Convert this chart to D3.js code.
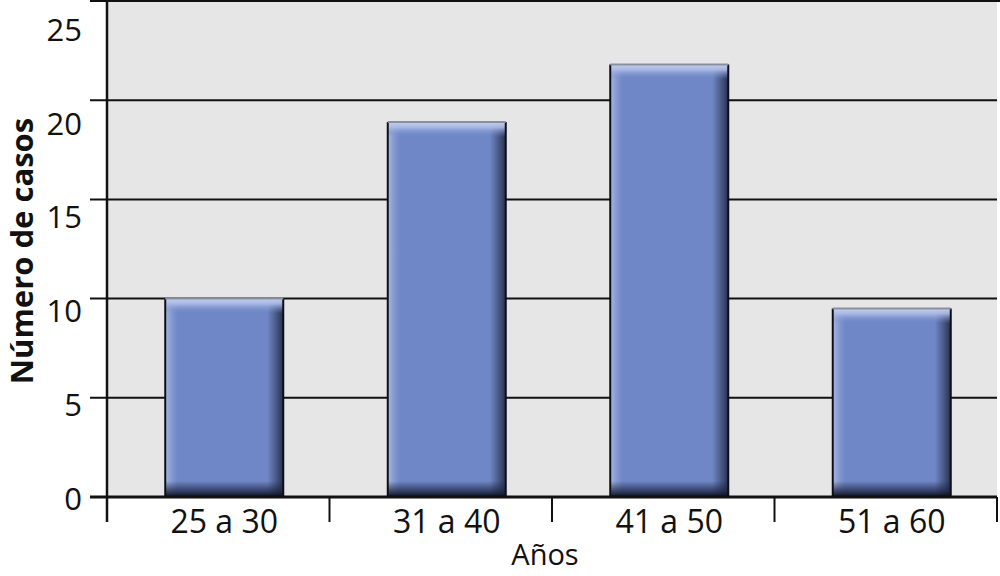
<!DOCTYPE html>
<html lang="es">
<head>
<meta charset="UTF-8">
<title>Número de casos por edad</title>
<script src="https://cdn.jsdelivr.net/npm/d3@7/dist/d3.min.js"></script>
<style>
  html, body { margin: 0; padding: 0; background: #fff; }
  svg { display: block; }
</style>
</head>
<body>
<svg width="1000" height="576"></svg>
<script>
    // data
    var categories = ["25 a 30", "31 a 40", "41 a 50", "51 a 60"];
    var casos = [10, 18.9, 21.8, 9.5];
    var yTicks = [0, 5, 10, 15, 20, 25];

    var width = 1000, height = 576;
    var mLeft = 107, mRight = 997, mTop = 1, mBottom = 497;
    var font = "'Open Sans', 'Noto Sans', sans-serif";

    const svg = d3.select("svg");

    const x = d3.scaleBand().domain(categories).range([mLeft, mRight]).padding(0);
    // bars sit slightly right of the category centres in the original
    const xBar = d3.scaleBand().domain(categories).range([mLeft + 6, mRight + 6]).padding(0);
    const y = d3.scaleLinear().domain([0, 25]).range([mBottom, mTop]);
    // tick labels in the original sit a little off their gridlines
    const yLabel = d3.scaleLinear().domain([0, 25]).range([mBottom + 2, mTop + 29]);

    const defs = svg.append("defs");
    function grad(id, x2, y2, stops) {
        const g = defs.append("linearGradient").attr("id", id)
            .attr("x1", 0).attr("y1", 0).attr("x2", x2).attr("y2", y2);
        stops.forEach(s => g.append("stop").attr("offset", s[0])
            .attr("stop-color", s[1]).attr("stop-opacity", s[2]));
    }
    grad("gTop", 0, 1, [[0, "#c4d0f0", 1], [0.35, "#aebde6", 0.9], [1, "#6f87c6", 0]]);
    grad("gBot", 0, 1, [[0, "#1b2440", 0], [0.6, "#1b2440", 0.7], [1, "#0a0e1c", 1]]);
    grad("gLeft", 1, 0, [[0, "#b3c2ea", 0.85], [1, "#8ea2d8", 0]]);
    grad("gRight", 1, 0, [[0, "#28314e", 0], [1, "#1e2540", 0.9]]);

    // plot background
    svg.append("rect")
        .attr("x", mLeft).attr("y", mTop)
        .attr("width", mRight - mLeft).attr("height", mBottom - mTop)
        .attr("fill", "#e6e6e6");

    // gridlines with left ticks
    svg.append("g")
        .selectAll("line")
        .data(yTicks.filter(d => d > 0))
        .join("line")
        .attr("x1", mLeft - 17)
        .attr("x2", d => d === 25 ? width : mRight)
        .attr("y1", d => y(d)).attr("y2", d => y(d))
        .attr("stroke", "#111").attr("stroke-width", 2);

    // bars
    const bw = 118;
    const bar = svg.append("g")
        .selectAll("g")
        .data(categories.map((c, i) => ({c: c, v: casos[i]})))
        .join("g")
        .attr("transform", d => `translate(${xBar(d.c) + xBar.bandwidth() / 2 - bw / 2},${y(d.v)})`);

    bar.append("rect")
        .attr("width", bw).attr("height", d => mBottom - y(d.v))
        .attr("fill", "#6f87c6");
    bar.append("rect")
        .attr("width", 13).attr("height", d => mBottom - y(d.v))
        .attr("fill", "url(#gLeft)");
    bar.append("rect")
        .attr("x", bw - 16).attr("width", 16).attr("height", d => mBottom - y(d.v))
        .attr("fill", "url(#gRight)");
    bar.append("rect")
        .attr("width", bw).attr("height", 15)
        .attr("fill", "url(#gTop)");
    bar.append("rect")
        .attr("y", d => mBottom - y(d.v) - 16)
        .attr("width", bw).attr("height", 16)
        .attr("fill", "url(#gBot)");
    // outline: dark sides, soft grey top
    bar.append("path")
        .attr("d", d => `M0,0V${mBottom - y(d.v)}H${bw}V0`)
        .attr("fill", "none").attr("stroke", "#0d0f18").attr("stroke-width", 2);
    bar.append("line")
        .attr("x1", 0).attr("x2", bw).attr("y1", 0).attr("y2", 0)
        .attr("stroke", "#8a8f9c").attr("stroke-width", 2);

    // axes lines
    svg.append("line")
        .attr("x1", mLeft).attr("x2", mLeft).attr("y1", 0).attr("y2", mBottom + 25)
        .attr("stroke", "#111").attr("stroke-width", 2.5);
    svg.append("line")
        .attr("x1", mLeft - 17).attr("x2", mRight).attr("y1", mBottom).attr("y2", mBottom)
        .attr("stroke", "#111").attr("stroke-width", 3);

    // category boundary ticks
    const bounds = categories.map(c => x(c)).concat([mRight]);
    svg.append("g")
        .selectAll("line")
        .data(bounds)
        .join("line")
        .attr("x1", d => d).attr("x2", d => d)
        .attr("y1", mBottom).attr("y2", mBottom + 25)
        .attr("stroke", "#111").attr("stroke-width", 2);

    // y tick labels
    svg.append("g")
        .style("font", `31px ${font}`)
        .attr("fill", "#111")
        .selectAll("text")
        .data(yTicks)
        .join("text")
        .attr("x", 82)
        .attr("y", d => yLabel(d))
        .attr("dy", "0.35em")
        .attr("text-anchor", "end")
        .text(d => d);

    // x tick labels
    svg.append("g")
        .style("font", `32px ${font}`)
        .attr("fill", "#111")
        .selectAll("text")
        .data(categories)
        .join("text")
        .attr("x", d => xBar(d) + xBar.bandwidth() / 2)
        .attr("y", mBottom + 25)
        .attr("dy", "0.35em")
        .attr("text-anchor", "middle")
        .text(d => d);

    // axis titles
    svg.append("text")
        .attr("x", 545)
        .attr("y", 555)
        .attr("dy", "0.35em")
        .attr("text-anchor", "middle")
        .style("font", `29px ${font}`)
        .attr("fill", "#111")
        .text("Años");

    svg.append("text")
        .attr("transform", "translate(22,251) rotate(-90)")
        .attr("dy", "0.35em")
        .attr("text-anchor", "middle")
        .style("font", `bold 31px ${font}`)
        .attr("fill", "#111")
        .text("Número de casos");
</script>
</body>
</html>
